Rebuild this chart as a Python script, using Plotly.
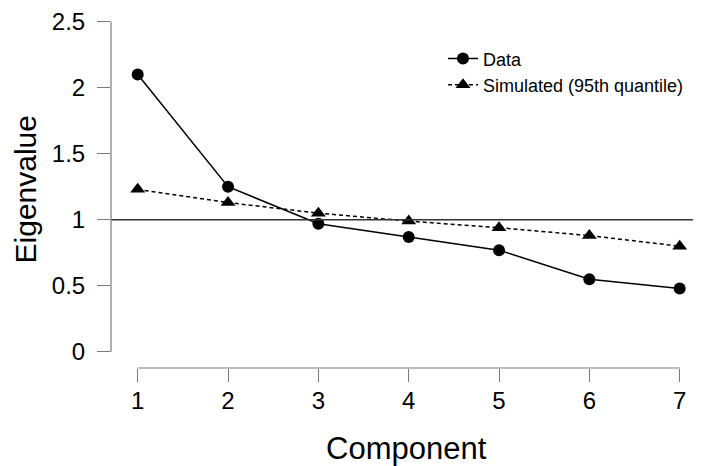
import plotly.graph_objects as go

components = [1, 2, 3, 4, 5, 6, 7]
data_eigen = [2.10, 1.25, 0.97, 0.87, 0.77, 0.55, 0.48]
sim_eigen = [1.23, 1.13, 1.05, 0.99, 0.94, 0.88, 0.80]
y_ticks = [0, 0.5, 1, 1.5, 2, 2.5]
y_tick_labels = ["0", "0.5", "1", "1.5", "2", "2.5"]
x_ticks = components
reference_line = 1

FONT = "Liberation Sans, Arial, sans-serif"
AXIS_COLOR = "#7a7a7a"

fig = go.Figure()
fig.add_trace(go.Scatter(
    x=components, y=data_eigen, name="Data", mode="lines+markers",
    line=dict(color="black", width=1.5),
    marker=dict(symbol="circle", size=12, color="black"),
))
fig.add_trace(go.Scatter(
    x=components, y=sim_eigen, name="Simulated (95th quantile)", mode="lines+markers",
    line=dict(color="black", width=1.5, dash="4px,3px"),
    marker=dict(symbol="triangle-up", size=13, color="black"),
))

# horizontal reference line
fig.add_shape(type="line", xref="paper", yref="y", x0=0, x1=1,
              y0=reference_line, y1=reference_line,
              line=dict(color="#333333", width=1.5))
# detached y-axis line
fig.add_shape(type="line", xref="paper", yref="y", x0=0, x1=0,
              y0=min(y_ticks), y1=max(y_ticks),
              line=dict(color=AXIS_COLOR, width=1.2))
# detached x-axis line
fig.add_shape(type="line", xref="x", yref="paper", x0=min(x_ticks), x1=max(x_ticks),
              y0=0, y1=0, line=dict(color=AXIS_COLOR, width=1.2))

fig.update_layout(
    width=693, height=458,
    margin=dict(l=103, r=0, t=0, b=98),
    paper_bgcolor="white", plot_bgcolor="white",
    font=dict(family=FONT, color="black"),
    showlegend=True,
    legend=dict(
        x=0.5627, y=0.918, xanchor="left", yanchor="top",
        font=dict(size=18, family=FONT, color="black"),
        itemwidth=30, bgcolor="rgba(0,0,0,0)", tracegroupgap=0,
    ),
    xaxis=dict(
        range=[0.7044, 7.236], showgrid=False, zeroline=False, showline=False,
        tickmode="array", tickvals=x_ticks, ticktext=[str(v) for v in x_ticks],
        ticks="outside", ticklen=13, tickwidth=1.2, tickcolor=AXIS_COLOR,
        tickfont=dict(size=24, family=FONT, color="black"),
        ticklabelstandoff=-2, ticklabeloverflow="allow",
    ),
    yaxis=dict(
        range=[-0.122, 2.58], showgrid=False, zeroline=False, showline=False,
        tickmode="array", tickvals=y_ticks, ticktext=y_tick_labels,
        ticks="outside", ticklen=13, tickwidth=1.2, tickcolor=AXIS_COLOR,
        tickfont=dict(size=24, family=FONT, color="black"),
        ticklabelstandoff=7, ticklabeloverflow="allow",
    ),
    annotations=[
        dict(text="Component", xref="paper", yref="paper", x=0.5, y=-0.2268,
             xanchor="center", yanchor="middle", showarrow=False,
             font=dict(size=31, family=FONT, color="black")),
        dict(text="Eigenvalue", xref="paper", yref="paper", x=-0.1441, y=0.5,
             xanchor="center", yanchor="middle", showarrow=False, textangle=-90,
             font=dict(size=30, family=FONT, color="black")),
    ],
)

fig.write_html("out.html")
